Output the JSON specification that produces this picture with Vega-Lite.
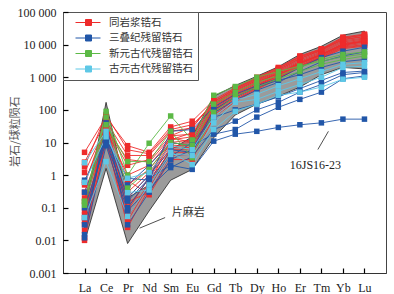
{
"$schema":"https://vega.github.io/schema/vega-lite/v6.json",
"width":323,"height":261,"autosize":"none",
"padding":{"left":63,"top":12,"right":8,"bottom":21},
"config":{"view":{"stroke":"#444","strokeWidth":1},"font":"Liberation Serif"},
"resolve":{"axis":{"x":"independent","y":"independent"}},
"datasets":{
"band":[
{"e":"La","lo":0.009,"hi":0.08},{"e":"Ce","lo":1.6,"hi":170},{"e":"Pr","lo":0.008,"hi":0.2},{"e":"Nd","lo":0.08,"hi":0.5},{"e":"Sm","lo":0.7,"hi":6},{"e":"Eu","lo":1.5,"hi":15},{"e":"Gd","lo":14,"hi":260},{"e":"Tb","lo":70,"hi":560},{"e":"Dy","lo":150,"hi":1070},{"e":"Ho","lo":260,"hi":2100},{"e":"Er","lo":500,"hi":5000},{"e":"Tm","lo":1200,"hi":8900},{"e":"Yb","lo":2000,"hi":19500},{"e":"Lu","lo":1800,"hi":26000}],
"zr":[
{"g":"R","id":"R1","e":"La","v":5},{"g":"R","id":"R1","e":"Ce","v":60},{"g":"R","id":"R1","e":"Pr","v":8},{"g":"R","id":"R1","e":"Nd","v":5},{"g":"R","id":"R1","e":"Sm","v":30},{"g":"R","id":"R1","e":"Eu","v":45},{"g":"R","id":"R1","e":"Gd","v":200},{"g":"R","id":"R1","e":"Tb","v":480},{"g":"R","id":"R1","e":"Dy","v":1000},{"g":"R","id":"R1","e":"Ho","v":2000},{"g":"R","id":"R1","e":"Er","v":4500},{"g":"R","id":"R1","e":"Tm","v":7500},{"g":"R","id":"R1","e":"Yb","v":17000},{"g":"R","id":"R1","e":"Lu","v":21000},
{"g":"R","id":"R2","e":"La","v":2.5},{"g":"R","id":"R2","e":"Ce","v":45},{"g":"R","id":"R2","e":"Pr","v":4},{"g":"R","id":"R2","e":"Nd","v":4},{"g":"R","id":"R2","e":"Sm","v":22},{"g":"R","id":"R2","e":"Eu","v":28},{"g":"R","id":"R2","e":"Gd","v":175},{"g":"R","id":"R2","e":"Tb","v":430},{"g":"R","id":"R2","e":"Dy","v":900},{"g":"R","id":"R2","e":"Ho","v":1800},{"g":"R","id":"R2","e":"Er","v":4100},{"g":"R","id":"R2","e":"Tm","v":7000},{"g":"R","id":"R2","e":"Yb","v":15500},{"g":"R","id":"R2","e":"Lu","v":19500},
{"g":"R","id":"R3","e":"La","v":1.2},{"g":"R","id":"R3","e":"Ce","v":30},{"g":"R","id":"R3","e":"Pr","v":2},{"g":"R","id":"R3","e":"Nd","v":3},{"g":"R","id":"R3","e":"Sm","v":16},{"g":"R","id":"R3","e":"Eu","v":18},{"g":"R","id":"R3","e":"Gd","v":150},{"g":"R","id":"R3","e":"Tb","v":380},{"g":"R","id":"R3","e":"Dy","v":800},{"g":"R","id":"R3","e":"Ho","v":1600},{"g":"R","id":"R3","e":"Er","v":3700},{"g":"R","id":"R3","e":"Tm","v":6500},{"g":"R","id":"R3","e":"Yb","v":14000},{"g":"R","id":"R3","e":"Lu","v":17500},
{"g":"R","id":"R4","e":"La","v":0.6},{"g":"R","id":"R4","e":"Ce","v":25},{"g":"R","id":"R4","e":"Pr","v":1},{"g":"R","id":"R4","e":"Nd","v":2},{"g":"R","id":"R4","e":"Sm","v":12},{"g":"R","id":"R4","e":"Eu","v":15},{"g":"R","id":"R4","e":"Gd","v":140},{"g":"R","id":"R4","e":"Tb","v":350},{"g":"R","id":"R4","e":"Dy","v":750},{"g":"R","id":"R4","e":"Ho","v":1500},{"g":"R","id":"R4","e":"Er","v":3400},{"g":"R","id":"R4","e":"Tm","v":6000},{"g":"R","id":"R4","e":"Yb","v":13000},{"g":"R","id":"R4","e":"Lu","v":16000},
{"g":"R","id":"R5","e":"La","v":0.3},{"g":"R","id":"R5","e":"Ce","v":20},{"g":"R","id":"R5","e":"Pr","v":0.5},{"g":"R","id":"R5","e":"Nd","v":1.5},{"g":"R","id":"R5","e":"Sm","v":10},{"g":"R","id":"R5","e":"Eu","v":12},{"g":"R","id":"R5","e":"Gd","v":130},{"g":"R","id":"R5","e":"Tb","v":320},{"g":"R","id":"R5","e":"Dy","v":700},{"g":"R","id":"R5","e":"Ho","v":1400},{"g":"R","id":"R5","e":"Er","v":3100},{"g":"R","id":"R5","e":"Tm","v":5600},{"g":"R","id":"R5","e":"Yb","v":12000},{"g":"R","id":"R5","e":"Lu","v":15000},
{"g":"R","id":"R6","e":"La","v":0.15},{"g":"R","id":"R6","e":"Ce","v":18},{"g":"R","id":"R6","e":"Pr","v":0.3},{"g":"R","id":"R6","e":"Nd","v":1.2},{"g":"R","id":"R6","e":"Sm","v":9},{"g":"R","id":"R6","e":"Eu","v":10},{"g":"R","id":"R6","e":"Gd","v":120},{"g":"R","id":"R6","e":"Tb","v":300},{"g":"R","id":"R6","e":"Dy","v":650},{"g":"R","id":"R6","e":"Ho","v":1300},{"g":"R","id":"R6","e":"Er","v":2900},{"g":"R","id":"R6","e":"Tm","v":5200},{"g":"R","id":"R6","e":"Yb","v":11000},{"g":"R","id":"R6","e":"Lu","v":14000},
{"g":"R","id":"R7","e":"La","v":0.08},{"g":"R","id":"R7","e":"Ce","v":15},{"g":"R","id":"R7","e":"Pr","v":0.2},{"g":"R","id":"R7","e":"Nd","v":1},{"g":"R","id":"R7","e":"Sm","v":8},{"g":"R","id":"R7","e":"Eu","v":8},{"g":"R","id":"R7","e":"Gd","v":110},{"g":"R","id":"R7","e":"Tb","v":280},{"g":"R","id":"R7","e":"Dy","v":600},{"g":"R","id":"R7","e":"Ho","v":1200},{"g":"R","id":"R7","e":"Er","v":2700},{"g":"R","id":"R7","e":"Tm","v":5000},{"g":"R","id":"R7","e":"Yb","v":10000},{"g":"R","id":"R7","e":"Lu","v":13000},
{"g":"R","id":"R8","e":"La","v":0.04},{"g":"R","id":"R8","e":"Ce","v":12},{"g":"R","id":"R8","e":"Pr","v":0.1},{"g":"R","id":"R8","e":"Nd","v":0.8},{"g":"R","id":"R8","e":"Sm","v":7},{"g":"R","id":"R8","e":"Eu","v":7},{"g":"R","id":"R8","e":"Gd","v":100},{"g":"R","id":"R8","e":"Tb","v":260},{"g":"R","id":"R8","e":"Dy","v":560},{"g":"R","id":"R8","e":"Ho","v":1100},{"g":"R","id":"R8","e":"Er","v":2500},{"g":"R","id":"R8","e":"Tm","v":4700},{"g":"R","id":"R8","e":"Yb","v":9500},{"g":"R","id":"R8","e":"Lu","v":12000},
{"g":"R","id":"R9","e":"La","v":0.02},{"g":"R","id":"R9","e":"Ce","v":10},{"g":"R","id":"R9","e":"Pr","v":0.05},{"g":"R","id":"R9","e":"Nd","v":0.6},{"g":"R","id":"R9","e":"Sm","v":6},{"g":"R","id":"R9","e":"Eu","v":6},{"g":"R","id":"R9","e":"Gd","v":90},{"g":"R","id":"R9","e":"Tb","v":240},{"g":"R","id":"R9","e":"Dy","v":520},{"g":"R","id":"R9","e":"Ho","v":1050},{"g":"R","id":"R9","e":"Er","v":2300},{"g":"R","id":"R9","e":"Tm","v":4400},{"g":"R","id":"R9","e":"Yb","v":9000},{"g":"R","id":"R9","e":"Lu","v":11000},
{"g":"R","id":"R10","e":"La","v":0.01},{"g":"R","id":"R10","e":"Ce","v":14},{"g":"R","id":"R10","e":"Pr","v":0.025},{"g":"R","id":"R10","e":"Nd","v":0.4},{"g":"R","id":"R10","e":"Sm","v":5},{"g":"R","id":"R10","e":"Eu","v":5},{"g":"R","id":"R10","e":"Gd","v":80},{"g":"R","id":"R10","e":"Tb","v":220},{"g":"R","id":"R10","e":"Dy","v":480},{"g":"R","id":"R10","e":"Ho","v":1000},{"g":"R","id":"R10","e":"Er","v":2200},{"g":"R","id":"R10","e":"Tm","v":4200},{"g":"R","id":"R10","e":"Yb","v":8500},{"g":"R","id":"R10","e":"Lu","v":10000},
{"g":"R","id":"R11","e":"La","v":0.012},{"g":"R","id":"R11","e":"Ce","v":35},{"g":"R","id":"R11","e":"Pr","v":0.04},{"g":"R","id":"R11","e":"Nd","v":0.5},{"g":"R","id":"R11","e":"Sm","v":12},{"g":"R","id":"R11","e":"Eu","v":20},{"g":"R","id":"R11","e":"Gd","v":160},{"g":"R","id":"R11","e":"Tb","v":400},{"g":"R","id":"R11","e":"Dy","v":850},{"g":"R","id":"R11","e":"Ho","v":1700},{"g":"R","id":"R11","e":"Er","v":3800},{"g":"R","id":"R11","e":"Tm","v":6800},{"g":"R","id":"R11","e":"Yb","v":14500},{"g":"R","id":"R11","e":"Lu","v":18000},
{"g":"R","id":"R12","e":"La","v":0.03},{"g":"R","id":"R12","e":"Ce","v":50},{"g":"R","id":"R12","e":"Pr","v":0.08},{"g":"R","id":"R12","e":"Nd","v":0.9},{"g":"R","id":"R12","e":"Sm","v":16},{"g":"R","id":"R12","e":"Eu","v":30},{"g":"R","id":"R12","e":"Gd","v":180},{"g":"R","id":"R12","e":"Tb","v":450},{"g":"R","id":"R12","e":"Dy","v":950},{"g":"R","id":"R12","e":"Ho","v":1900},{"g":"R","id":"R12","e":"Er","v":4300},{"g":"R","id":"R12","e":"Tm","v":7300},{"g":"R","id":"R12","e":"Yb","v":16000},{"g":"R","id":"R12","e":"Lu","v":20000},
{"g":"R","id":"R13","e":"La","v":1.8},{"g":"R","id":"R13","e":"Ce","v":70},{"g":"R","id":"R13","e":"Pr","v":6},{"g":"R","id":"R13","e":"Nd","v":4.5},{"g":"R","id":"R13","e":"Sm","v":25},{"g":"R","id":"R13","e":"Eu","v":35},{"g":"R","id":"R13","e":"Gd","v":150},{"g":"R","id":"R13","e":"Tb","v":350},{"g":"R","id":"R13","e":"Dy","v":700},{"g":"R","id":"R13","e":"Ho","v":1300},{"g":"R","id":"R13","e":"Er","v":2800},{"g":"R","id":"R13","e":"Tm","v":5000},{"g":"R","id":"R13","e":"Yb","v":10500},{"g":"R","id":"R13","e":"Lu","v":13000},
{"g":"R","id":"R14","e":"La","v":0.5},{"g":"R","id":"R14","e":"Ce","v":40},{"g":"R","id":"R14","e":"Pr","v":0.7},{"g":"R","id":"R14","e":"Nd","v":0.25},{"g":"R","id":"R14","e":"Sm","v":3},{"g":"R","id":"R14","e":"Eu","v":3},{"g":"R","id":"R14","e":"Gd","v":60},{"g":"R","id":"R14","e":"Tb","v":180},{"g":"R","id":"R14","e":"Dy","v":420},{"g":"R","id":"R14","e":"Ho","v":900},{"g":"R","id":"R14","e":"Er","v":2000},{"g":"R","id":"R14","e":"Tm","v":3800},{"g":"R","id":"R14","e":"Yb","v":7500},{"g":"R","id":"R14","e":"Lu","v":9000},
{"g":"R","id":"R15","e":"La","v":0.2},{"g":"R","id":"R15","e":"Ce","v":28},{"g":"R","id":"R15","e":"Pr","v":3},{"g":"R","id":"R15","e":"Nd","v":2.5},{"g":"R","id":"R15","e":"Sm","v":14},{"g":"R","id":"R15","e":"Eu","v":10},{"g":"R","id":"R15","e":"Gd","v":95},{"g":"R","id":"R15","e":"Tb","v":250},{"g":"R","id":"R15","e":"Dy","v":550},{"g":"R","id":"R15","e":"Ho","v":1150},{"g":"R","id":"R15","e":"Er","v":2600},{"g":"R","id":"R15","e":"Tm","v":4800},{"g":"R","id":"R15","e":"Yb","v":9800},{"g":"R","id":"R15","e":"Lu","v":12500},
{"g":"R","id":"R16","e":"La","v":0.06},{"g":"R","id":"R16","e":"Ce","v":22},{"g":"R","id":"R16","e":"Pr","v":0.15},{"g":"R","id":"R16","e":"Nd","v":0.3},{"g":"R","id":"R16","e":"Sm","v":4},{"g":"R","id":"R16","e":"Eu","v":4},{"g":"R","id":"R16","e":"Gd","v":70},{"g":"R","id":"R16","e":"Tb","v":200},{"g":"R","id":"R16","e":"Dy","v":450},{"g":"R","id":"R16","e":"Ho","v":950},{"g":"R","id":"R16","e":"Er","v":2100},{"g":"R","id":"R16","e":"Tm","v":4000},{"g":"R","id":"R16","e":"Yb","v":8000},{"g":"R","id":"R16","e":"Lu","v":9500},
{"g":"B","id":"B1","e":"La","v":0.7},{"g":"B","id":"B1","e":"Ce","v":12},{"g":"B","id":"B1","e":"Pr","v":0.8},{"g":"B","id":"B1","e":"Nd","v":0.7},{"g":"B","id":"B1","e":"Sm","v":22},{"g":"B","id":"B1","e":"Eu","v":25},{"g":"B","id":"B1","e":"Gd","v":120},{"g":"B","id":"B1","e":"Tb","v":300},{"g":"B","id":"B1","e":"Dy","v":550},{"g":"B","id":"B1","e":"Ho","v":900},{"g":"B","id":"B1","e":"Er","v":2000},{"g":"B","id":"B1","e":"Tm","v":4000},{"g":"B","id":"B1","e":"Yb","v":6300},{"g":"B","id":"B1","e":"Lu","v":8300},
{"g":"B","id":"B2","e":"La","v":0.1},{"g":"B","id":"B2","e":"Ce","v":10},{"g":"B","id":"B2","e":"Pr","v":0.16},{"g":"B","id":"B2","e":"Nd","v":0.8},{"g":"B","id":"B2","e":"Sm","v":3.7},{"g":"B","id":"B2","e":"Eu","v":10},{"g":"B","id":"B2","e":"Gd","v":59},{"g":"B","id":"B2","e":"Tb","v":100},{"g":"B","id":"B2","e":"Dy","v":150},{"g":"B","id":"B2","e":"Ho","v":250},{"g":"B","id":"B2","e":"Er","v":450},{"g":"B","id":"B2","e":"Tm","v":800},{"g":"B","id":"B2","e":"Yb","v":1400},{"g":"B","id":"B2","e":"Lu","v":1550},
{"g":"B","id":"B3","e":"La","v":0.012},{"g":"B","id":"B3","e":"Ce","v":8},{"g":"B","id":"B3","e":"Pr","v":0.08},{"g":"B","id":"B3","e":"Nd","v":0.4},{"g":"B","id":"B3","e":"Sm","v":1.7},{"g":"B","id":"B3","e":"Eu","v":3.7},{"g":"B","id":"B3","e":"Gd","v":25},{"g":"B","id":"B3","e":"Tb","v":45},{"g":"B","id":"B3","e":"Dy","v":100},{"g":"B","id":"B3","e":"Ho","v":170},{"g":"B","id":"B3","e":"Er","v":350},{"g":"B","id":"B3","e":"Tm","v":600},{"g":"B","id":"B3","e":"Yb","v":1200},{"g":"B","id":"B3","e":"Lu","v":1400},
{"g":"B","id":"B4","e":"La","v":0.05},{"g":"B","id":"B4","e":"Ce","v":15},{"g":"B","id":"B4","e":"Pr","v":0.1},{"g":"B","id":"B4","e":"Nd","v":0.8},{"g":"B","id":"B4","e":"Sm","v":2},{"g":"B","id":"B4","e":"Eu","v":1.5},{"g":"B","id":"B4","e":"Gd","v":11},{"g":"B","id":"B4","e":"Tb","v":18},{"g":"B","id":"B4","e":"Dy","v":22},{"g":"B","id":"B4","e":"Ho","v":29},{"g":"B","id":"B4","e":"Er","v":35},{"g":"B","id":"B4","e":"Tm","v":40},{"g":"B","id":"B4","e":"Yb","v":52},{"g":"B","id":"B4","e":"Lu","v":52},
{"g":"B","id":"B5","e":"La","v":0.03},{"g":"B","id":"B5","e":"Ce","v":20},{"g":"B","id":"B5","e":"Pr","v":0.2},{"g":"B","id":"B5","e":"Nd","v":1},{"g":"B","id":"B5","e":"Sm","v":6},{"g":"B","id":"B5","e":"Eu","v":5},{"g":"B","id":"B5","e":"Gd","v":80},{"g":"B","id":"B5","e":"Tb","v":200},{"g":"B","id":"B5","e":"Dy","v":400},{"g":"B","id":"B5","e":"Ho","v":700},{"g":"B","id":"B5","e":"Er","v":1500},{"g":"B","id":"B5","e":"Tm","v":3000},{"g":"B","id":"B5","e":"Yb","v":4500},{"g":"B","id":"B5","e":"Lu","v":6000},
{"g":"B","id":"B6","e":"La","v":0.3},{"g":"B","id":"B6","e":"Ce","v":14},{"g":"B","id":"B6","e":"Pr","v":0.5},{"g":"B","id":"B6","e":"Nd","v":2},{"g":"B","id":"B6","e":"Sm","v":10},{"g":"B","id":"B6","e":"Eu","v":8},{"g":"B","id":"B6","e":"Gd","v":18},{"g":"B","id":"B6","e":"Tb","v":25},{"g":"B","id":"B6","e":"Dy","v":60},{"g":"B","id":"B6","e":"Ho","v":120},{"g":"B","id":"B6","e":"Er","v":210},{"g":"B","id":"B6","e":"Tm","v":350},{"g":"B","id":"B6","e":"Yb","v":900},{"g":"B","id":"B6","e":"Lu","v":1100},
{"g":"B","id":"B7","e":"La","v":0.015},{"g":"B","id":"B7","e":"Ce","v":40},{"g":"B","id":"B7","e":"Pr","v":0.03},{"g":"B","id":"B7","e":"Nd","v":0.3},{"g":"B","id":"B7","e":"Sm","v":3},{"g":"B","id":"B7","e":"Eu","v":6},{"g":"B","id":"B7","e":"Gd","v":100},{"g":"B","id":"B7","e":"Tb","v":250},{"g":"B","id":"B7","e":"Dy","v":500},{"g":"B","id":"B7","e":"Ho","v":800},{"g":"B","id":"B7","e":"Er","v":1200},{"g":"B","id":"B7","e":"Tm","v":2000},{"g":"B","id":"B7","e":"Yb","v":3000},{"g":"B","id":"B7","e":"Lu","v":3500},
{"g":"G","id":"G1","e":"La","v":0.15},{"g":"G","id":"G1","e":"Ce","v":90},{"g":"G","id":"G1","e":"Pr","v":1},{"g":"G","id":"G1","e":"Nd","v":9.5},{"g":"G","id":"G1","e":"Sm","v":65},{"g":"G","id":"G1","e":"Eu","v":12},{"g":"G","id":"G1","e":"Gd","v":280},{"g":"G","id":"G1","e":"Tb","v":520},{"g":"G","id":"G1","e":"Dy","v":1000},{"g":"G","id":"G1","e":"Ho","v":1500},{"g":"G","id":"G1","e":"Er","v":2200},{"g":"G","id":"G1","e":"Tm","v":3100},{"g":"G","id":"G1","e":"Yb","v":4200},{"g":"G","id":"G1","e":"Lu","v":5200},
{"g":"G","id":"G2","e":"La","v":0.12},{"g":"G","id":"G2","e":"Ce","v":35},{"g":"G","id":"G2","e":"Pr","v":2.6},{"g":"G","id":"G2","e":"Nd","v":2.6},{"g":"G","id":"G2","e":"Sm","v":22},{"g":"G","id":"G2","e":"Eu","v":3.4},{"g":"G","id":"G2","e":"Gd","v":84},{"g":"G","id":"G2","e":"Tb","v":260},{"g":"G","id":"G2","e":"Dy","v":500},{"g":"G","id":"G2","e":"Ho","v":900},{"g":"G","id":"G2","e":"Er","v":1500},{"g":"G","id":"G2","e":"Tm","v":2500},{"g":"G","id":"G2","e":"Yb","v":3500},{"g":"G","id":"G2","e":"Lu","v":4500},
{"g":"G","id":"G3","e":"La","v":0.16},{"g":"G","id":"G3","e":"Ce","v":60},{"g":"G","id":"G3","e":"Pr","v":0.4},{"g":"G","id":"G3","e":"Nd","v":1.5},{"g":"G","id":"G3","e":"Sm","v":10},{"g":"G","id":"G3","e":"Eu","v":8},{"g":"G","id":"G3","e":"Gd","v":150},{"g":"G","id":"G3","e":"Tb","v":350},{"g":"G","id":"G3","e":"Dy","v":700},{"g":"G","id":"G3","e":"Ho","v":1100},{"g":"G","id":"G3","e":"Er","v":2000},{"g":"G","id":"G3","e":"Tm","v":3500},{"g":"G","id":"G3","e":"Yb","v":5000},{"g":"G","id":"G3","e":"Lu","v":6000},
{"g":"C","id":"C1","e":"La","v":2.4},{"g":"C","id":"C1","e":"Ce","v":22},{"g":"C","id":"C1","e":"Pr","v":0.29},{"g":"C","id":"C1","e":"Nd","v":0.35},{"g":"C","id":"C1","e":"Sm","v":4.3},{"g":"C","id":"C1","e":"Eu","v":4},{"g":"C","id":"C1","e":"Gd","v":40},{"g":"C","id":"C1","e":"Tb","v":170},{"g":"C","id":"C1","e":"Dy","v":210},{"g":"C","id":"C1","e":"Ho","v":370},{"g":"C","id":"C1","e":"Er","v":600},{"g":"C","id":"C1","e":"Tm","v":1000},{"g":"C","id":"C1","e":"Yb","v":2000},{"g":"C","id":"C1","e":"Lu","v":2200},
{"g":"C","id":"C2","e":"La","v":0.05},{"g":"C","id":"C2","e":"Ce","v":2.6},{"g":"C","id":"C2","e":"Pr","v":0.054},{"g":"C","id":"C2","e":"Nd","v":0.5},{"g":"C","id":"C2","e":"Sm","v":5},{"g":"C","id":"C2","e":"Eu","v":2.1},{"g":"C","id":"C2","e":"Gd","v":25},{"g":"C","id":"C2","e":"Tb","v":90},{"g":"C","id":"C2","e":"Dy","v":150},{"g":"C","id":"C2","e":"Ho","v":280},{"g":"C","id":"C2","e":"Er","v":350},{"g":"C","id":"C2","e":"Tm","v":500},{"g":"C","id":"C2","e":"Yb","v":870},{"g":"C","id":"C2","e":"Lu","v":1000},
{"g":"C","id":"C3","e":"La","v":0.6},{"g":"C","id":"C3","e":"Ce","v":15},{"g":"C","id":"C3","e":"Pr","v":0.8},{"g":"C","id":"C3","e":"Nd","v":1.2},{"g":"C","id":"C3","e":"Sm","v":8},{"g":"C","id":"C3","e":"Eu","v":6},{"g":"C","id":"C3","e":"Gd","v":60},{"g":"C","id":"C3","e":"Tb","v":200},{"g":"C","id":"C3","e":"Dy","v":300},{"g":"C","id":"C3","e":"Ho","v":550},{"g":"C","id":"C3","e":"Er","v":900},{"g":"C","id":"C3","e":"Tm","v":1500},{"g":"C","id":"C3","e":"Yb","v":2500},{"g":"C","id":"C3","e":"Lu","v":2800}
]},
"layer":[
{"data":{"name":"band"},
 "mark":{"type":"area","fill":"#9b9b9b","stroke":"#222","strokeWidth":0.8,"interpolate":"linear"},
 "encoding":{
  "x":{"field":"e","type":"ordinal","sort":["La","Ce","Pr","Nd","Sm","Eu","Gd","Tb","Dy","Ho","Er","Tm","Yb","Lu"],
       "scale":{"type":"point","padding":1},
       "axis":{"orient":"bottom","title":null,"labelFont":"Liberation Serif","labelFontSize":12,"labelColor":"#222","labelAngle":0,"ticks":false,"labelPadding":9,"domainColor":"#333"}},
  "y":{"field":"lo","type":"quantitative","scale":{"type":"log","domain":[0.001,100000],"nice":false},
       "axis":{"orient":"left","title":"岩石/球粒陨石","titleFont":"Noto Sans CJK SC","titleFontSize":11,"titleFontWeight":"normal","titleColor":"#555","titleX":-48,"titleY":119,"titleBaseline":"middle",
               "values":[0.001,0.01,0.1,1,10,100,1000,10000,100000],
               "labelExpr":"datum.value >= 1000 ? (datum.value >= 100000 ? '100 000' : (datum.value >= 10000 ? '10 000' : '1 000')) : format(datum.value, '')",
               "labelFont":"Liberation Serif","labelFontSize":12,"labelColor":"#222","ticks":false,"labelPadding":7,"grid":false,"domainColor":"#333"}},
  "y2":{"field":"hi"}}},
{"data":{"name":"zr"},
 "mark":{"type":"line","strokeWidth":0.9},
 "encoding":{
  "x":{"field":"e","type":"ordinal","sort":["La","Ce","Pr","Nd","Sm","Eu","Gd","Tb","Dy","Ho","Er","Tm","Yb","Lu"],"axis":null},
  "y":{"field":"v","type":"quantitative","axis":null},
  "detail":{"field":"id"},
  "color":{"field":"g","type":"nominal",
   "scale":{"domain":["R","B","G","C"],"range":["#ee2b2b","#2156a8","#5cb946","#5ec8e6"]},
   "legend":{"orient":"top-left","offset":0,"title":null,"padding":5,"rowPadding":4.5,
     "symbolType":"M0.4,0L5.4,0M2.4,-0.6L3.6,-0.6L3.6,0.6L2.4,0.6Z","symbolSize":100,"labelOffset":30,
     "labelFont":"Noto Sans CJK SC","labelFontSize":10.5,"labelColor":"#333",
     "strokeColor":"#555","fillColor":"white",
     "labelExpr":"datum.label == 'R' ? '同岩浆锆石' : (datum.label == 'B' ? '三叠纪残留锆石' : (datum.label == 'G' ? '新元古代残留锆石' : '古元古代残留锆石'))",
     "encode":{"symbols":{"update":{"fill":{"scale":"color","field":"value"},"stroke":{"scale":"color","field":"value"},"strokeWidth":{"value":1},"opacity":{"value":1}}}}}}}},
{"data":{"name":"zr"},
 "mark":{"type":"point","shape":"square","filled":true,"size":30,"opacity":1},
 "encoding":{
  "x":{"field":"e","type":"ordinal","sort":["La","Ce","Pr","Nd","Sm","Eu","Gd","Tb","Dy","Ho","Er","Tm","Yb","Lu"],
       "axis":{"orient":"bottom","title":null,"labels":false,"domain":false,"grid":false,"offset":-5,"tickSize":5,"tickWidth":1.2,"tickColor":"#000","zindex":3}},
  "y":{"field":"v","type":"quantitative",
       "axis":{"orient":"left","title":null,"labels":false,"domain":false,"grid":false,"offset":-5,"tickSize":5,"tickWidth":1.2,"tickColor":"#000","zindex":3,"values":[0.001,0.01,0.1,1,10,100,1000,10000,100000]}},
  "color":{"field":"g","type":"nominal"}}},
{"data":{"values":[{}]},
 "mark":{"type":"rule","stroke":"#222","strokeWidth":0.8,"xOffset":12,"x2Offset":16},
 "encoding":{"x":{"datum":"Pr","type":"ordinal","axis":null},"x2":{"datum":"Nd"},"y":{"datum":0.0237,"type":"quantitative","axis":null},"y2":{"datum":0.05}}},
{"data":{"values":[{}]},
 "mark":{"type":"rule","stroke":"#222","strokeWidth":0.8,"xOffset":18,"x2Offset":7},
 "encoding":{"x":{"datum":"Er","type":"ordinal","axis":null},"x2":{"datum":"Tm"},"y":{"datum":6.1,"type":"quantitative","axis":null},"y2":{"datum":22}}},
{"data":{"values":[{}]},
 "mark":{"type":"text","text":"片麻岩","font":"Noto Sans CJK SC","fontSize":11,"fill":"#333","align":"left","baseline":"middle","dx":1},
 "encoding":{"x":{"datum":"Sm","type":"ordinal","axis":null},"y":{"datum":0.07,"type":"quantitative","axis":null}}},
{"data":{"values":[{}]},
 "mark":{"type":"text","text":"16JS16-23","font":"Liberation Serif","fontSize":12,"fill":"#222","align":"center","baseline":"middle","dx":-6},
 "encoding":{"x":{"datum":"Tm","type":"ordinal","axis":null},"y":{"datum":2.1,"type":"quantitative","axis":null}}}
]
}
